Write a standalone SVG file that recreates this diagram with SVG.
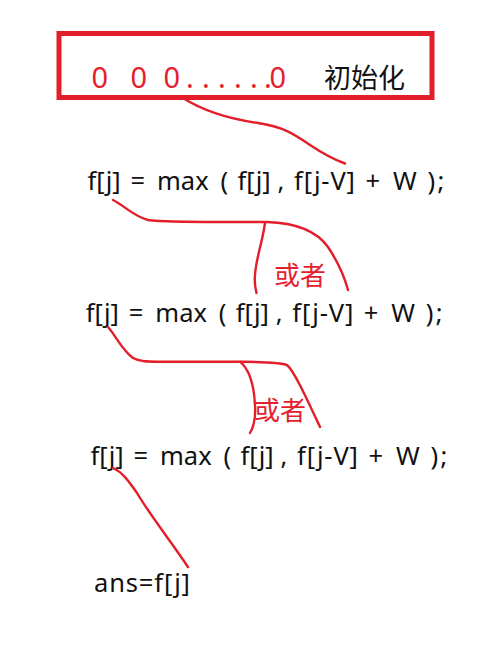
<svg xmlns="http://www.w3.org/2000/svg" width="493" height="660" viewBox="0 0 493 660">
<style>
.f{font-family:"Noto Sans","Open Sans","DejaVu Sans",sans-serif;font-size:25.5px;fill:#111}
.cjk{font-family:"Noto Sans CJK SC","Noto Sans",sans-serif}
.red{fill:#e5202e}
.wire{fill:none;stroke:#e31e2b;stroke-width:2.4;stroke-linecap:round;stroke-linejoin:round}
</style>
<rect width="493" height="660" fill="#fff"/>
<g id="init">
<rect x="59" y="33.5" width="373" height="64" fill="none" stroke="#e31e2b" stroke-width="5"/>
<text class="f red" style="font-size:29px" y="88" x="91.5 130.5 163.5 186 202 218 234 250 264 269.5">000......0</text>
<text class="cjk" y="88" x="324" font-size="27" fill="#111" textLength="81">初始化</text>
</g>
<g id="line1" transform="translate(0,189.5)">
<text class="f" y="0"><tspan x="87.5">f[j]</tspan><tspan x="130.5">=</tspan><tspan x="157">max</tspan><tspan x="220.5">(</tspan><tspan x="237.5">f[j]</tspan><tspan x="277.5">,</tspan><tspan x="294" textLength="61">f[j-V]</tspan><tspan x="365.5">+</tspan><tspan x="393">W</tspan><tspan x="427.5">)</tspan><tspan x="437.5">;</tspan></text>
</g>
<g id="line2" transform="translate(-1.7,321.5)">
<text class="f" y="0"><tspan x="87.5">f[j]</tspan><tspan x="130.5">=</tspan><tspan x="157">max</tspan><tspan x="220.5">(</tspan><tspan x="237.5">f[j]</tspan><tspan x="277.5">,</tspan><tspan x="294" textLength="61">f[j-V]</tspan><tspan x="365.5">+</tspan><tspan x="393">W</tspan><tspan x="427.5">)</tspan><tspan x="437.5">;</tspan></text>
</g>
<g id="line3" transform="translate(3,465)">
<text class="f" y="0"><tspan x="87.5">f[j]</tspan><tspan x="130.5">=</tspan><tspan x="157">max</tspan><tspan x="220.5">(</tspan><tspan x="237.5">f[j]</tspan><tspan x="277.5">,</tspan><tspan x="294" textLength="61">f[j-V]</tspan><tspan x="365.5">+</tspan><tspan x="393">W</tspan><tspan x="427.5">)</tspan><tspan x="437.5">;</tspan></text>
</g>
<g id="ans">
<text class="f" x="94" y="591.5" textLength="96">ans=f[j]</text>
</g>
<g id="connectors">
<path class="wire" d="M183,98 C205,112 230,119 258,123 C285,127 295,135 310,145 C325,155 338,161 345,163.5"/>
<path class="wire" d="M113,200 C125,206 133,216 148,220 C165,222.5 230,222 267,222 C300,223 318,233 328,247 C338,262 344,275 348,290"/>
<path class="wire" d="M265,223 C263,240 256,258 255,275 C254,285 256,290 256.5,293"/>
<path class="wire" d="M108,327 C116,336 122,350 133,358 C140,362 150,361.7 160,361.7 L240,361.7 C260,362 280,362 287,365 C294,371 305,395 320,427"/>
<path class="wire" d="M240,361.7 C250,370 254,385 255,405 C256,420 253,428 250,433"/>
<path class="wire" d="M113,468 C122,472 128,480 137,493 C150,515 170,540 188,567"/>
</g>
<g id="labels">
<text class="cjk red" x="274" y="284.5" font-size="26">或者</text>
<text class="cjk red" x="254" y="419.5" font-size="26">或者</text>
</g>
</svg>
